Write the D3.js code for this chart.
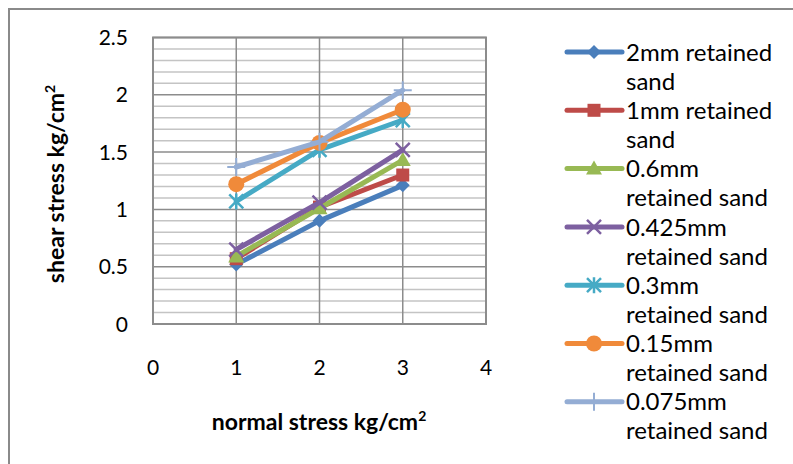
<!DOCTYPE html>
<html>
<head>
<meta charset="utf-8">
<script src="https://cdn.jsdelivr.net/npm/d3@7.9.0/dist/d3.min.js"></script>
<style>
  body { margin: 0; background: #fff; }
  svg text { font-family: Lato, "Liberation Sans", sans-serif; fill: #000; }
</style>
</head>
<body>
<svg id="chart" width="793" height="464"></svg>
<script>
// DATA
const normalStress = [1, 2, 3];
const seriesNames = [
  '2mm retained sand',
  '1mm retained sand',
  '0.6mm retained sand',
  '0.425mm retained sand',
  '0.3mm retained sand',
  '0.15mm retained sand',
  '0.075mm retained sand'
];
const shear2mm = [0.52, 0.90, 1.21];
const shear1mm = [0.57, 1.02, 1.30];
const shear06mm = [0.59, 1.01, 1.43];
const shear0425mm = [0.65, 1.06, 1.52];
const shear03mm = [1.07, 1.52, 1.78];
const shear015mm = [1.22, 1.58, 1.87];
const shear0075mm = [1.37, 1.59, 2.04];
const xTicks = [0, 1, 2, 3, 4];
const yTicks = [0, 0.5, 1, 1.5, 2, 2.5];

const allSeries = [shear2mm, shear1mm, shear06mm, shear0425mm, shear03mm, shear015mm, shear0075mm];
const colors = ['#4A7EBB', '#BE4B48', '#98B954', '#7D60A0', '#46AAC5', '#F08A3A', '#94ADD4'];
const markers = ['diamond', 'square', 'triangle', 'x', 'star', 'circle', 'plus'];

const svg = d3.select('#chart');

// outer chart frame (runs off the right/bottom edge)
svg.append('rect')
  .attr('x', 9).attr('y', 9)
  .attr('width', 800).attr('height', 470)
  .attr('fill', 'none')
  .attr('stroke', '#8a8a8a')
  .attr('stroke-width', 2);

const plot = { left: 153, top: 37.5, right: 486, bottom: 324 };

const x = d3.scaleLinear().domain([0, 4]).range([plot.left, plot.right]);
const y = d3.scaleLinear().domain([0, 2.5]).range([plot.bottom, plot.top]);

// minor grid
const minor = d3.range(0, 2.5001, 0.1).filter(v => Math.abs(v * 2 - Math.round(v * 2)) > 1e-6);
svg.append('g')
  .selectAll('line')
  .data(minor)
  .join('line')
  .attr('x1', plot.left).attr('x2', plot.right)
  .attr('y1', d => y(d)).attr('y2', d => y(d))
  .attr('stroke', '#c4c4c4')
  .attr('stroke-width', 1.5);

// major grid
svg.append('g')
  .selectAll('line')
  .data(yTicks)
  .join('line')
  .attr('x1', plot.left).attr('x2', plot.right)
  .attr('y1', d => y(d)).attr('y2', d => y(d))
  .attr('stroke', '#8c8c8c')
  .attr('stroke-width', 1.5);

svg.append('g')
  .selectAll('line')
  .data(xTicks)
  .join('line')
  .attr('x1', d => x(d)).attr('x2', d => x(d))
  .attr('y1', plot.top).attr('y2', plot.bottom)
  .attr('stroke', '#8c8c8c')
  .attr('stroke-width', 1.5);

// plot border
svg.append('rect')
  .attr('x', plot.left).attr('y', plot.top)
  .attr('width', plot.right - plot.left).attr('height', plot.bottom - plot.top)
  .attr('fill', 'none')
  .attr('stroke', '#8c8c8c')
  .attr('stroke-width', 2);

// tick labels
svg.append('g')
  .selectAll('text')
  .data(yTicks)
  .join('text')
  .attr('x', 128)
  .attr('y', d => y(d))
  .attr('dy', '0.36em')
  .attr('text-anchor', 'end')
  .attr('font-family', 'Roboto')
  .attr('font-size', 21)
  .text(d => d);

svg.append('g')
  .selectAll('text')
  .data(xTicks)
  .join('text')
  .attr('x', d => x(d))
  .attr('y', 367)
  .attr('dy', '0.36em')
  .attr('text-anchor', 'middle')
  .attr('font-family', 'Roboto')
  .attr('font-size', 21)
  .text(d => d);

// axis titles
const yTitle = svg.append('text')
  .attr('transform', 'translate(64,184) rotate(-90)')
  .attr('text-anchor', 'middle')
  .attr('font-weight', 'bold')
  .attr('font-size', 23);
yTitle.append('tspan').text('shear stress kg/cm');
yTitle.append('tspan').attr('font-size', 14).attr('dy', -9).text('2');

const xTitle = svg.append('text')
  .attr('x', 319).attr('y', 430)
  .attr('text-anchor', 'middle')
  .attr('font-weight', 'bold')
  .attr('font-size', 23);
xTitle.append('tspan').text('normal stress kg/cm');
xTitle.append('tspan').attr('font-size', 14).attr('dy', -9).text('2');

// marker drawing
function drawMarker(g, type, color) {
  const s = 7;
  if (type === 'diamond') {
    g.append('path').attr('d', `M0,${-s}L${s},0L0,${s}L${-s},0Z`).attr('fill', color);
  } else if (type === 'square') {
    g.append('rect').attr('x', -6.5).attr('y', -6.5).attr('width', 13).attr('height', 13).attr('fill', color);
  } else if (type === 'triangle') {
    g.append('path').attr('d', `M0,-8L8,6L-8,6Z`).attr('fill', color);
  } else if (type === 'x') {
    g.append('path').attr('d', `M-7,-7L7,7M-7,7L7,-7`).attr('stroke', color).attr('stroke-width', 2.5);
  } else if (type === 'star') {
    g.append('path').attr('d', `M-7,-7L7,7M-7,7L7,-7M0,-8L0,8`).attr('stroke', color).attr('stroke-width', 2.5);
  } else if (type === 'circle') {
    g.append('circle').attr('r', 8).attr('fill', color);
  } else if (type === 'plus') {
    g.append('path').attr('d', `M-9,0L9,0M0,-9L0,9`).attr('stroke', color).attr('stroke-width', 2);
  }
}

const line = d3.line()
  .x((d, i) => x(normalStress[i]))
  .y(d => y(d));

allSeries.forEach((vals, k) => {
  svg.append('path')
    .datum(vals)
    .attr('d', line)
    .attr('fill', 'none')
    .attr('stroke', colors[k])
    .attr('stroke-width', 5)
    .attr('stroke-linejoin', 'round')
    .attr('stroke-linecap', 'round');
  vals.forEach((v, i) => {
    const g = svg.append('g').attr('transform', `translate(${x(normalStress[i])},${y(v)})`);
    drawMarker(g, markers[k], colors[k]);
  });
});

// legend: first two names wrap after two words, the rest after one
const legend = svg.append('g');
seriesNames.forEach((name, k) => {
  const cy = 52 + k * 58.3;
  legend.append('line')
    .attr('x1', 567).attr('x2', 622)
    .attr('y1', cy).attr('y2', cy)
    .attr('stroke', colors[k])
    .attr('stroke-width', 5)
    .attr('stroke-linecap', 'round');
  const g = legend.append('g').attr('transform', `translate(594,${cy})`);
  drawMarker(g, markers[k], colors[k]);
  const words = name.split(' ');
  const cut = k < 2 ? 2 : 1;
  const t = legend.append('text')
    .attr('x', 626).attr('y', cy)
    .attr('dy', '0.36em')
    .attr('font-size', 24);
  t.append('tspan').attr('x', 626).text(words.slice(0, cut).join(' '));
  t.append('tspan').attr('x', 626).attr('dy', 29).text(words.slice(cut).join(' '));
});
</script>
</body>
</html>
